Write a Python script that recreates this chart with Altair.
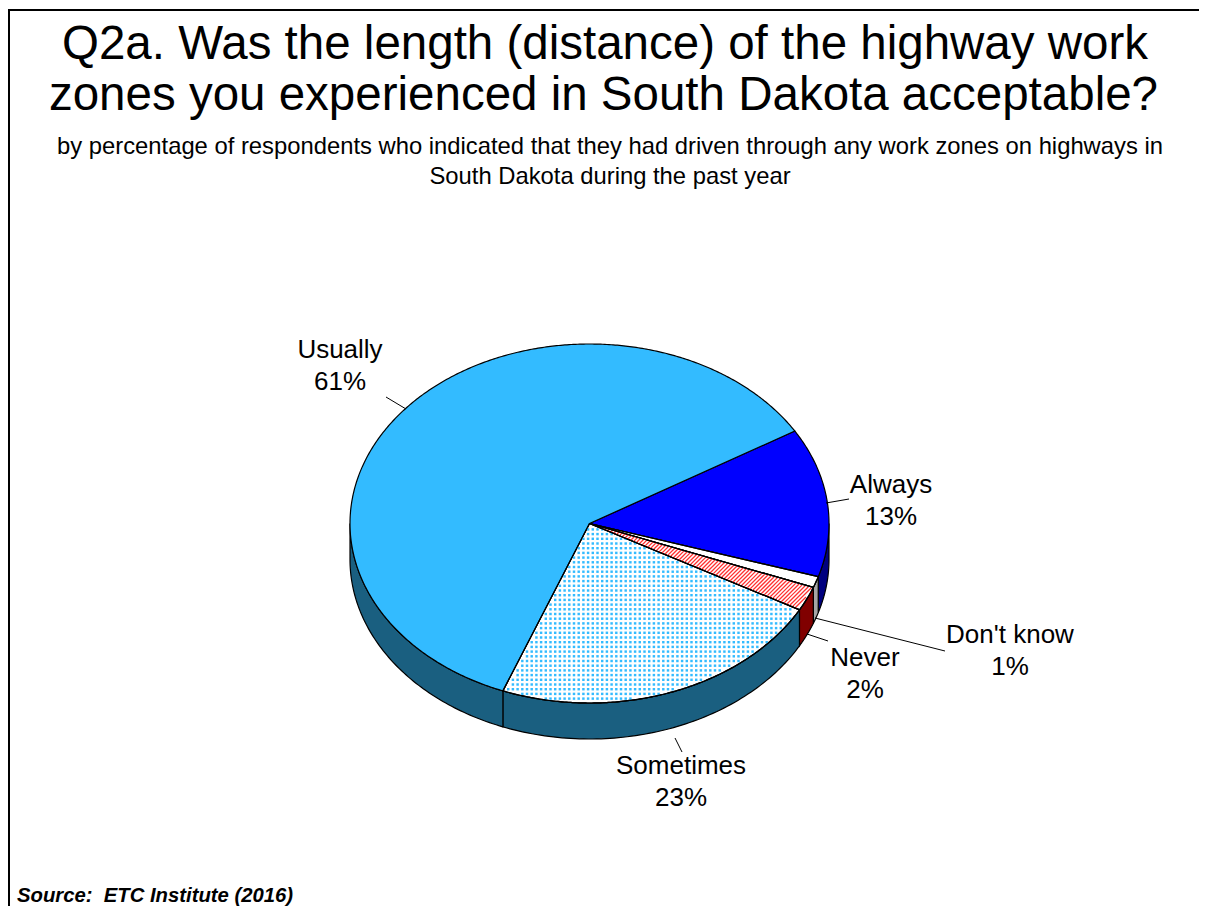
import altair as alt
import numpy as np
import pandas as pd

categories = ["Always", "Don't know", "Never", "Sometimes", "Usually"]
shares = [13.4, 1.0, 2.2, 22.9, 60.5]
share_labels = ["13%", "1%", "2%", "23%", "61%"]
top_fill = ["#0000ff", "#ffffff", "#ffffff", "#ffffff", "#33bbff"]
side_fill = ["#00007f", "#a6a6a6", "#800000", "#1a5f80", "#1a5f80"]

title_lines = ["Q2a. Was the length (distance) of the highway work",
               "zones you experienced in South Dakota acceptable?"]
subtitle_lines = ["by percentage of respondents who indicated that they had driven through any work zones on highways in",
                  "South Dakota during the past year"]
source_text = "Source:\u00a0\u00a0ETC Institute (2016)"
FONT = "Liberation Sans"

CX, CY, RX, RY, DEPTH, START = 589.5, 523.5, 239.5, 179.5, 36, 31.0

X = alt.X("x:Q", scale=alt.Scale(domain=[8, 1199]), axis=None)
Y = alt.Y("y:Q", scale=alt.Scale(domain=[906, 8]), axis=None)


def ex(t):
    return CX + RX * np.cos(np.radians(t))


def ey(t, dz=0):
    return CY - RY * np.sin(np.radians(t)) + dz


def poly(xs, ys, fill=None, stroke="#000000", sw=1.2):
    df = pd.DataFrame({"x": xs, "y": ys, "i": range(len(xs))})
    kw = {"stroke": stroke, "strokeWidth": sw}
    if fill is not None:
        kw["fill"] = fill
        kw["filled"] = True
    return alt.Chart(df).mark_line(**kw).encode(x=X, y=Y, order="i:Q")


spans = []
a = START
for s in shares:
    b = a - s * 3.6
    spans.append((a, b))
    a = b

layers = []

# side wall
for (a, b), col in zip(spans, side_fill):
    for shift in (0, -360):
        hi, lo = min(a + shift, 0), max(b + shift, -180)
        if hi > lo:
            t = np.linspace(hi, lo, 80)
            xs = np.r_[ex(t), ex(t[::-1]), ex(t[0])]
            ys = np.r_[ey(t), ey(t[::-1], DEPTH), ey(t[0])]
            layers.append(poly(xs, ys, col))

# top faces
wedges = []
for (a, b), col in zip(spans, top_fill):
    t = np.linspace(a, b, max(int(a - b) * 2, 12))
    xs = np.r_[CX, ex(t), CX]
    ys = np.r_[CY, ey(t), CY]
    wedges.append((xs, ys))
    layers.append(poly(xs, ys, col))


def inside(px, py, a, b):
    ang = np.degrees(np.arctan2(-(py - CY) / RY, (px - CX) / RX))
    r = ((px - CX) / RX) ** 2 + ((py - CY) / RY) ** 2
    ang2 = ang.copy()
    ang2[ang2 > a] -= 360
    return (r < 0.985) & (ang2 > b + 0.5) & (ang2 < a - 0.5)


# dotted texture of Sometimes
a, b = spans[3]
gx, gy = np.meshgrid(np.arange(480, 820, 4.7), np.arange(520, 710, 4.7))
gx, gy = gx.ravel(), gy.ravel()
m = inside(gx, gy, a, b)
dots = pd.DataFrame({"x": gx[m], "y": gy[m]})
layers.append(alt.Chart(dots).mark_square(size=6, color="#33bbff", opacity=1).encode(x=X, y=Y))

# hatch texture of Never
a, b = spans[2]
segs = []
for c in np.arange(1115, 1450, 4.0):
    px = np.linspace(580, 825, 2500)
    py = c - px
    m = inside(px, py, a + 0.3, b - 0.3)
    if m.sum() > 1:
        segs.append((px[m][0], py[m][0], px[m][-1], py[m][-1]))
hatch = pd.DataFrame(segs, columns=["x", "y", "x2", "y2"])
layers.append(alt.Chart(hatch).mark_rule(color="#ff3030", strokeWidth=1.3).encode(x=X, y=Y, x2="x2:Q", y2="y2:Q"))

# re-stroke wedge outlines on top of textures
for xs, ys in wedges[1:4]:
    layers.append(poly(xs, ys))

# leader lines
leaders = [(386, 397, 406, 409), (826, 503, 849, 499), (815, 618, 945, 651),
           (807, 634, 828, 641), (675, 738, 682, 752)]
ld = pd.DataFrame(leaders, columns=["x", "y", "x2", "y2"])
layers.append(alt.Chart(ld).mark_rule(color="#000000", strokeWidth=1).encode(x=X, y=Y, x2="x2:Q", y2="y2:Q"))

# frame
layers.append(poly([1199, 9, 9], [10, 10, 906], None, "#000000", 2))


def text(rows, size, **kw):
    df = pd.DataFrame(rows, columns=["x", "y", "t"])
    return alt.Chart(df).mark_text(font=FONT, fontSize=size, color="#000000", baseline="alphabetic", **kw).encode(x=X, y=Y, text="t:N")


layers.append(text([(605, 58.5, title_lines[0]), (603.5, 110, title_lines[1])], 47.5, align="center"))
layers.append(text([(610, 154, subtitle_lines[0]), (610, 184, subtitle_lines[1])], 23.8, align="center"))
label_pos = [(891, 493), (1010, 643), (865, 666), (681, 774), (340, 358)]
rows = []
for c, s, (lx, ly) in zip(categories, share_labels, label_pos):
    rows += [(lx, ly, c), (lx, ly + 32, s)]
layers.append(text(rows, 26, align="center"))
layers.append(text([(17, 902, source_text)], 20.3, align="left", fontWeight="bold", fontStyle="italic"))

chart = alt.layer(*layers).properties(
    width=1191, height=898, padding=0, background="#ffffff",
    autosize=alt.AutoSizeParams(type="none"),
).configure_view(stroke=None)

chart.save("out.html", embed_options={"renderer": "svg", "actions": False})
